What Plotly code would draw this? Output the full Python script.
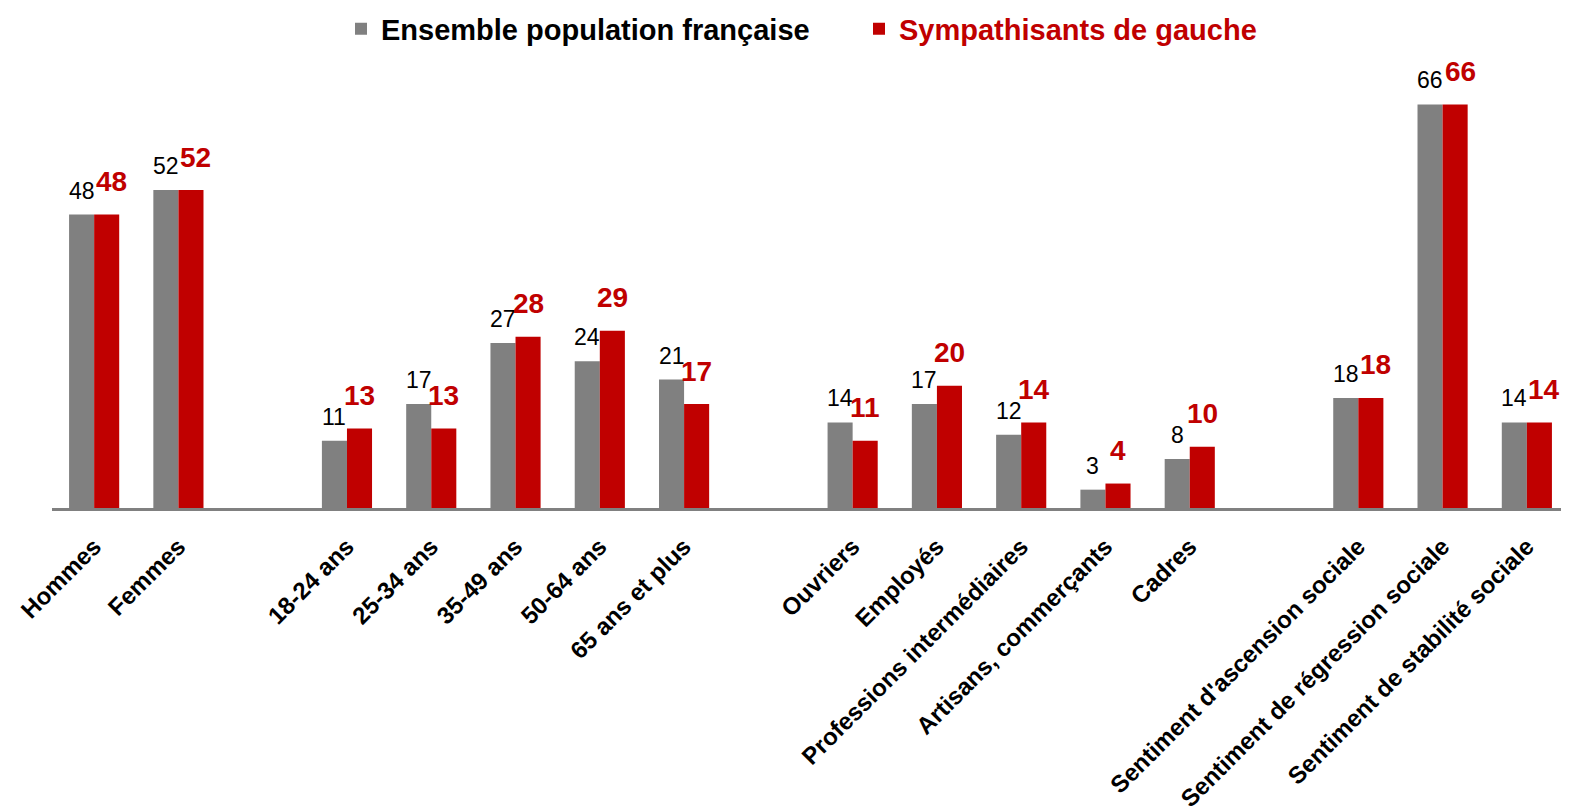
import plotly.graph_objects as go

categories = ["Hommes", "Femmes", " ", "18-24 ans", "25-34 ans", "35-49 ans", "50-64 ans",
              "65 ans et plus", "  ", "Ouvriers", "Employés", "Professions intermédiaires",
              "Artisans, commerçants", "Cadres", "   ", "Sentiment d'ascension sociale",
              "Sentiment de régression sociale", "Sentiment de stabilité sociale"]
ensemble = [48, 52, None, 11, 17, 27, 24, 21, None, 14, 17, 12, 3, 8, None, 18, 66, 14]
gauche = [48, 52, None, 13, 13, 28, 29, 17, None, 11, 20, 14, 4, 10, None, 18, 66, 14]

GREY = "#808080"
RED = "#C00000"
FONT = "Liberation Sans, Arial, sans-serif"

fig = go.Figure()
fig.add_trace(go.Bar(x=categories, y=ensemble, name="<b>Ensemble population française</b>",
                     marker=dict(color=GREY, line=dict(width=0))))
fig.add_trace(go.Bar(x=categories, y=gauche,
                     name="<b><span style='color:#C00000'>Sympathisants de gauche</span></b>",
                     marker=dict(color=RED, line=dict(width=0))))

for c, v in zip(categories, ensemble):
    if v is not None:
        fig.add_annotation(x=c, y=v, text=str(v), showarrow=False, xshift=-12.5, yshift=24,
                           font=dict(family=FONT, size=23, color="black"))
for c, v, e in zip(categories, gauche, ensemble):
    if v is not None:
        extra = 5 if v == e else 0
        fig.add_annotation(x=c, y=v, text="<b>%d</b>" % v, showarrow=False,
                           xshift=12.5 + extra, yshift=33,
                           font=dict(family=FONT, size=28, color=RED))

# page body has an 8px margin: figure is drawn 8px right/down of the window origin
fig.update_layout(
    width=1561, height=801,
    margin=dict(l=44, r=0, t=72, b=301, autoexpand=False),
    paper_bgcolor="white", plot_bgcolor="white",
    barmode="group", bargap=0.405, bargroupgap=0,
    font=dict(family=FONT, color="black"),
    showlegend=True,
    legend=dict(orientation="h", xref="container", yref="container",
                x=333 / 1561, xanchor="left", y=1 - 21 / 801, yanchor="middle",
                entrywidth=473, entrywidthmode="pixels",
                font=dict(size=29, family=FONT, color="black"),
                bgcolor="rgba(0,0,0,0)"),
)
fig.update_xaxes(showline=True, linecolor=GREY, linewidth=3, tickangle=-45,
                 ticks="outside", ticklen=12, tickcolor="rgba(0,0,0,0)",
                 tickfont=dict(size=24, family=FONT, color="black"),
                 tickprefix="<b>", ticksuffix="</b>", showgrid=False, automargin=False)
fig.update_yaxes(range=[0, 70], visible=False, showgrid=False, zeroline=False,
                 automargin=False)

fig.write_html("out.html")
